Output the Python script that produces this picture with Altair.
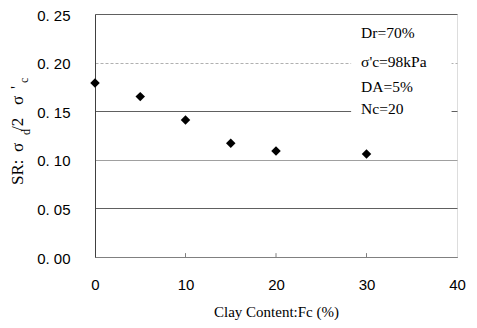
import altair as alt
import pandas as pd

# data
fc = [0, 5, 10, 15, 20, 30]
sr = [0.179, 0.165, 0.141, 0.117, 0.109, 0.106]
x_ticks = [0, 10, 20, 30, 40]
y_ticks = [0.0, 0.05, 0.10, 0.15, 0.20, 0.25]
inner_ticks = [10, 20, 30]
notes = ["Dr=70%", "σ'c=98kPa", "DA=5%", "Nc=20"]
note_y = [0.230, 0.201, 0.175, 0.152]
note_x = [29.4, 29.4, 29.4, 29.4]
box_x = [28.3]
box_x2 = [39.4]
box_y = [0.243]
box_y2 = [0.139]

pts = pd.DataFrame({"fc": fc, "sr": sr})
notes_df = pd.DataFrame({"t": notes, "x": note_x, "y": note_y})
box_df = pd.DataFrame({"x": box_x, "x2": box_x2, "y": box_y, "y2": box_y2})
tick_df = pd.DataFrame({"x": inner_ticks, "y": [0.0] * 3, "y2": [0.004] * 3})
one = pd.DataFrame({"k": [0]})

xs = alt.Scale(domain=[0, 40], nice=False)
ys = alt.Scale(domain=[0, 0.25], nice=False)

x_axis = alt.Axis(values=x_ticks, grid=False, ticks=False, labelPadding=20, labelFlush=False,
                  labelFont="Liberation Sans", labelFontSize=15, labelColor="#000",
                  domainColor="#808080", title="Clay Content:Fc (%)",
                  titleFont="Liberation Serif", titleFontSize=15, titleFontWeight="normal",
                  titleColor="#000", titleBaseline="alphabetic", titleY=59)
y_axis = alt.Axis(values=y_ticks, grid=True, ticks=False, labelFlush=False,
                  gridColor={"expr": "datum.value == 0.2 ? '#b0b0b0' : datum.value == 0.1 ? '#a0a0a0' : '#606060'"},
                  gridDash={"expr": "datum.value == 0.2 ? [3, 2] : []"},
                  labelPadding=25, labelFont="Liberation Sans", labelFontSize=15,
                  labelColor="#000", domainColor="#404040", labelOffset=1,
                  labelExpr="replace(format(datum.value, '.2f'), '.', '. ')",
                  title=None)

base = alt.Chart(pts).mark_point(shape="diamond", filled=True, color="black", size=90, opacity=1).encode(
    x=alt.X("fc:Q", scale=xs, axis=x_axis),
    y=alt.Y("sr:Q", scale=ys, axis=y_axis),
)

box = alt.Chart(box_df).mark_rect(color="white").encode(
    x=alt.X("x:Q", scale=xs), x2="x2:Q", y=alt.Y("y:Q", scale=ys), y2="y2:Q")

text = alt.Chart(notes_df).mark_text(align="left", baseline="middle", font="Liberation Serif",
                                     fontSize=15.5, color="black").encode(
    x=alt.X("x:Q", scale=xs), y=alt.Y("y:Q", scale=ys), text="t:N")

ticks = alt.Chart(tick_df).mark_rule(color="#808080").encode(
    x=alt.X("x:Q", scale=xs), y=alt.Y("y:Q", scale=ys), y2="y2:Q")

# y-axis title with subscripts, built from rotated text pieces
title_parts = ["SR:", "σ", "d", "/2", "σ", "'", "c"]
title_sizes = [17, 17, 12, 17, 17, 17, 12]
title_ypix = [171, 138, 121, 117, 91, 75, 69]
title_xpix = [-72, -72, -65.5, -72, -72, -73.5, -67]
title_layers = [
    alt.Chart(one).mark_text(angle=270, align="left", baseline="alphabetic", font="Liberation Serif",
                             fontSize=s, color="black").encode(
        x=alt.value(xp), y=alt.value(yp), text=alt.value(t))
    for t, s, yp, xp in zip(title_parts, title_sizes, title_ypix, title_xpix)
]

chart = alt.layer(box, base, text, ticks, *title_layers).properties(
    width=362, height=243,
    autosize=alt.AutoSizeParams(type="none"),
    padding={"left": 87, "top": 6, "right": 12, "bottom": 63},
).configure_view(stroke="#808080").configure(background="white")

chart.save("out.html", embed_options={"renderer": "svg", "actions": False})
